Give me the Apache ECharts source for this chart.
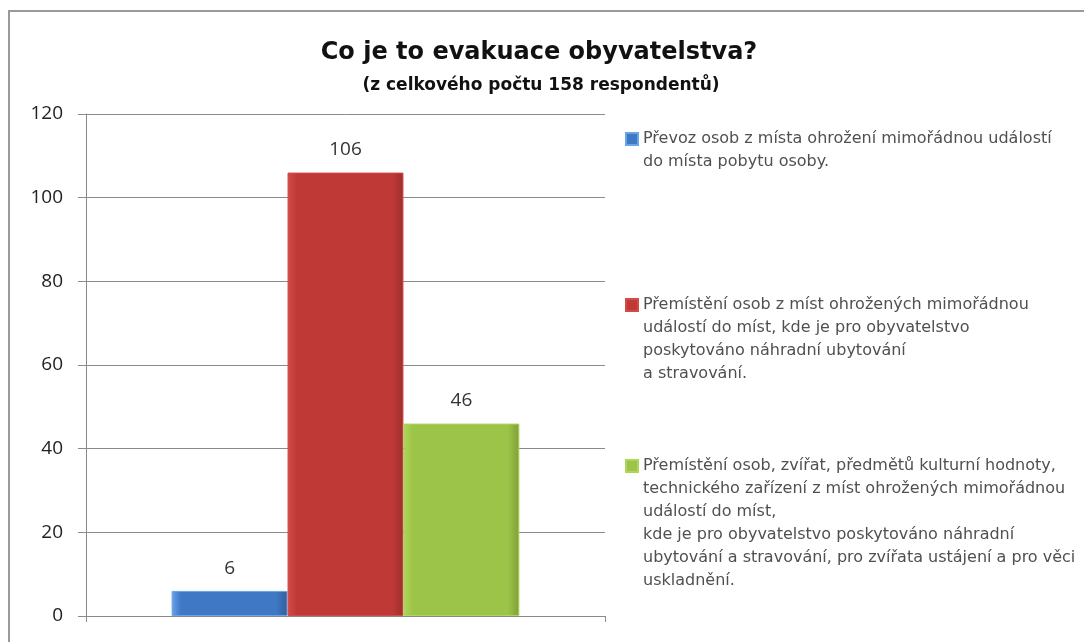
<!DOCTYPE html>
<html>
<head>
<meta charset="utf-8">
<script src="https://cdn.jsdelivr.net/npm/echarts@6/dist/echarts.min.js"></script>
<style>html,body{margin:0;padding:0;background:#fff;}#c{width:1084px;height:642px;}</style>
</head>
<body>
<div id="c"></div>
<script>
var titleText = 'Co je to evakuace obyvatelstva?';
var subtitleText = '(z celkového počtu 158 respondentů)';
var categories = [''];
var seriesNames = [
  'Převoz osob z místa ohrožení mimořádnou událostí\ndo místa pobytu osoby.',
  'Přemístění osob z míst ohrožených mimořádnou\nudálostí do míst, kde je pro obyvatelstvo\nposkytováno náhradní ubytování\na stravování.',
  'Přemístění osob, zvířat, předmětů kulturní hodnoty,\ntechnického zařízení z míst ohrožených mimořádnou\nudálostí do míst,\nkde je pro obyvatelstvo poskytováno náhradní\nubytování a stravování, pro zvířata ustájení a pro věci\nuskladnění.'
];
var seriesValues = [[6], [106], [46]];
var yTicks = { min: 0, max: 120, interval: 20 };

var palettes = [
  ['#6aa3e8', '#3f78c4', '#2f5f9e'],
  ['#d44a47', '#bf3a37', '#9e2e2c'],
  ['#aed65a', '#9cc448', '#7f9f38']
];
var legendIconCenters = [139, 305, 466];
var LH = 23;

function grad(p) {
  return new echarts.graphic.LinearGradient(0, 0, 1, 0, [
    { offset: 0, color: p[0] },
    { offset: 0.08, color: p[1] },
    { offset: 0.9, color: p[1] },
    { offset: 1, color: p[2] }
  ]);
}

var chart = echarts.init(document.getElementById('c'), null, { renderer: 'canvas' });

var series = seriesNames.map(function (name, i) {
  return {
    name: name,
    type: 'bar',
    data: seriesValues[i],
    barGap: '0%',
    barCategoryGap: '33%',
    itemStyle: { color: grad(palettes[i]), borderColor: palettes[i][0], borderWidth: 1 },
    label: {
      show: true, position: 'top', distance: 13,
      fontFamily: 'Open Sans', fontSize: 19, color: '#333'
    }
  };
});

var legends = seriesNames.map(function (name, i) {
  var n = name.split('\n').length;
  var prefix = new Array(n).join('\n');
  return {
    data: [name],
    orient: 'vertical',
    left: 625,
    top: legendIconCenters[i] - (2 * n - 1) * LH / 2,
    padding: 0,
    itemWidth: 12,
    itemHeight: 12,
    icon: 'rect',
    selectedMode: false,
    formatter: function (nm) { return prefix + nm; },
    textStyle: {
      fontFamily: 'DejaVu Sans',
      fontSize: 16,
      color: '#505050',
      lineHeight: LH
    }
  };
});

chart.setOption({
  animation: false,
  backgroundColor: '#fff',
  title: [
    { text: titleText, left: 534, textAlign: 'center', top: 36,
      textStyle: { fontFamily: 'DejaVu Sans', fontWeight: 'bold', fontSize: 24, color: '#111' } },
    { text: subtitleText, left: 536, textAlign: 'center', top: 72,
      textStyle: { fontFamily: 'DejaVu Sans', fontWeight: 'bold', fontSize: 17, color: '#111' } }
  ],
  graphic: [{
    type: 'rect', shape: { x: 9, y: 11, width: 1100, height: 700 },
    style: { fill: 'none', stroke: '#9a9a9a', lineWidth: 2 }, silent: true
  }],
  legend: legends,
  grid: { left: 86, right: 479, top: 114, bottom: 26, containLabel: false },
  xAxis: {
    type: 'category', data: categories,
    axisLine: { lineStyle: { color: '#8a8a8a' } },
    axisTick: { show: true, length: 6, lineStyle: { color: '#8a8a8a' } },
    axisLabel: { show: false }
  },
  yAxis: {
    type: 'value', min: yTicks.min, max: yTicks.max, interval: yTicks.interval,
    axisLine: { show: true, lineStyle: { color: '#8a8a8a' } },
    axisTick: { show: true, length: 8, lineStyle: { color: '#8a8a8a' } },
    axisLabel: { margin: 23, fontFamily: 'Open Sans', fontSize: 19, color: '#222' },
    splitLine: { lineStyle: { color: '#8a8a8a' } }
  },
  series: series
});
</script>
</body>
</html>
